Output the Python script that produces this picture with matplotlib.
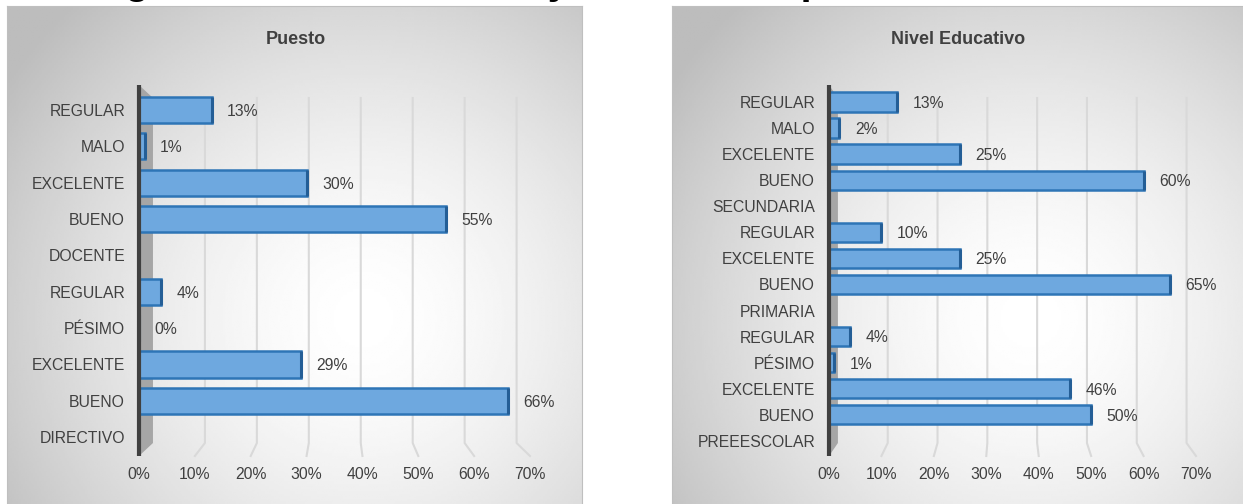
import numpy as np
import matplotlib.pyplot as plt
import matplotlib.transforms as mtransforms
from matplotlib.patches import Polygon

plt.rcParams['font.family'] = ['Liberation Sans', 'DejaVu Sans']

W, H = 1243, 504

# left panel: by position
puesto_labels = ['REGULAR', 'MALO', 'EXCELENTE', 'BUENO', 'DOCENTE',
                 'REGULAR', 'PÉSIMO', 'EXCELENTE', 'BUENO', 'DIRECTIVO']
puesto_values = [13, 1, 30, 55, None, 4, 0, 29, 66, None]

# right panel: by education level
nivel_labels = ['REGULAR', 'MALO', 'EXCELENTE', 'BUENO', 'SECUNDARIA',
                'REGULAR', 'EXCELENTE', 'BUENO', 'PRIMARIA',
                'REGULAR', 'PÉSIMO', 'EXCELENTE', 'BUENO', 'PREEESCOLAR']
nivel_values = [13, 2, 25, 60, None, 10, 25, 65, None, 4, 1, 46, 50, None]

x_ticks = [0, 10, 20, 30, 40, 50, 60, 70]

TXT = '#404040'
BAR = '#6EA8DF'
EDGE = '#2E75B6'
CAP = '#245E96'


def px_rect(x0, y0, x1, y1):
    # pixel box (top-left origin) -> figure fraction rect
    return [x0 / W, 1 - y1 / H, (x1 - x0) / W, (y1 - y0) / H]


def panel(fig, rect, cx, cy):
    bg = fig.add_axes(rect, zorder=0)
    yy, xx = np.mgrid[0:1:200j, 0:1:300j]
    r = np.sqrt(((xx - cx) / 0.75) ** 2 + ((yy - cy) / 0.85) ** 2)
    r = np.clip(r, 0, 1)
    shade = 1.0 - 0.26 * r ** 1.6
    bg.imshow(shade, cmap='gray', vmin=0, vmax=1, extent=[0, 1, 0, 1],
              aspect='auto', origin='upper', interpolation='bilinear')
    bg.set_xticks([])
    bg.set_yticks([])
    for s in bg.spines.values():
        s.set_color('#bfbfbf')


def draw(fig, rect, labels, values, ylim, b0, k, bar_h):
    ax = fig.add_axes(rect, zorder=1)
    ax.patch.set_visible(False)
    trans = mtransforms.blended_transform_factory(ax.transData, ax.transAxes)

    # back wall gridlines with perspective feet
    for v in x_ticks[1:]:
        bx = b0 + k * v
        ax.plot([v, bx, bx], [0, 0.035, 0.965], transform=trans,
                color='#d9d9d9', lw=1.5, zorder=1, clip_on=False)

    # 3d side wall + axis line
    ax.add_patch(Polygon([(0, 1), (b0, 0.965), (b0, 0.035), (0, 0)],
                         closed=True, transform=trans, fc='#a6a6a6',
                         ec='none', zorder=2, clip_on=False))
    ax.plot([0, 0], [0, 1], transform=trans, color=TXT, lw=3,
            zorder=5, solid_capstyle='butt', clip_on=False)

    pos = np.arange(len(labels))
    keep = [i for i, v in enumerate(values) if v is not None]
    vals = [values[i] for i in keep]
    ax.barh(pos[keep], vals, height=bar_h, color=BAR, edgecolor=EDGE,
            lw=1.8, zorder=3)
    # darker end face of each bar
    ax.vlines(vals, pos[keep] - bar_h / 2, pos[keep] + bar_h / 2,
              color=CAP, lw=2.2, zorder=4)
    for p, v in zip(pos[keep], vals):
        ax.annotate(f'{v}%', xy=(v, p), xytext=(11, -1),
                    textcoords='offset points', va='center', ha='left',
                    fontsize=11.3, color=TXT, zorder=6)

    ax.set_xlim(0, 70)
    ax.set_ylim(*ylim)
    ax.set_xticks(x_ticks)
    ax.set_xticklabels([f'{v}%' for v in x_ticks])
    ax.set_yticks(pos)
    ax.set_yticklabels(labels)
    ax.tick_params(axis='both', length=0, labelsize=11.3, labelcolor=TXT)
    ax.tick_params(axis='x', pad=8)
    ax.tick_params(axis='y', pad=10)
    for s in ax.spines.values():
        s.set_visible(False)
    return ax


fig = plt.figure(figsize=(W / 100, H / 100), dpi=100)

panel(fig, px_rect(7, 6, 582, 510), 0.62, 0.62)
panel(fig, px_rect(672, 6, 1250, 510), 0.62, 0.62)

draw(fig, px_rect(139, 85, 530, 456), puesto_labels, puesto_values,
     (9.52, -0.69), 2.5, 0.93, 0.72)
draw(fig, px_rect(829, 85, 1196, 456), nivel_labels, nivel_values,
     (13.58, -0.65), 1.7, 0.95, 0.74)

fig.text(296 / W, 1 - 39 / H, 'Puesto', ha='center', va='center',
         fontsize=13, fontweight='bold', color=TXT)
fig.text(958 / W, 1 - 39 / H, 'Nivel Educativo', ha='center', va='center',
         fontsize=13, fontweight='bold', color=TXT)

# page caption, cropped at the top of the image (only its lower edge shows)
fig.text(90 / W, 1 + 6 / H,
         'Figura 15. Clima laboral y relación en puntos observados',
         ha='left', va='baseline', fontsize=28.5, fontweight='bold',
         color='black', zorder=0.5)

fig.savefig('out.png', dpi=100)
